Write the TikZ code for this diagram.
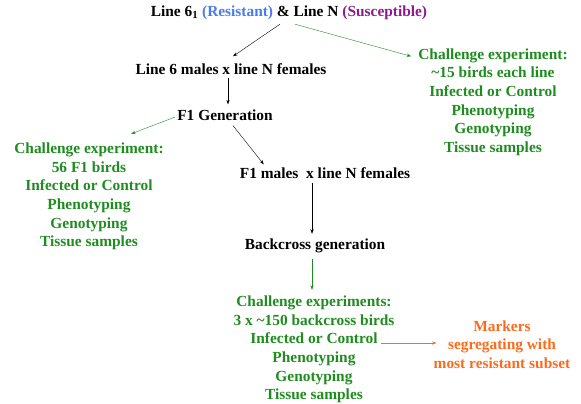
\documentclass[tikz,border=0pt]{standalone}
\usepackage{fontspec}
\setmainfont{Liberation Serif}
\usepackage{xcolor}
\usetikzlibrary{arrows.meta,calc}
\definecolor{resblue}{HTML}{4A7BEB}
\definecolor{suspurple}{HTML}{8C1A8C}
\definecolor{chalgreen}{HTML}{1F8C1F}
\definecolor{markorange}{HTML}{FF6A1A}
\tikzset{
	lbl/.style={font=\bfseries\fontsize{15.4}{18.6}\selectfont,align=center,inner sep=1pt},
	arr/.style={line width=0.4pt,-{Stealth[length=4.5pt,width=3.2pt]}}
}

\begin{document}
\begin{tikzpicture}[x=1pt,y=-1pt]
			\useasboundingbox (0,0) rectangle (581,404);
			\node[lbl] (title) at (289,13) {Line 6\textsubscript{1} {\color{resblue}(Resistant)} \& Line N {\color{suspurple}(Susceptible)}};
			\node[lbl] (cross1) at (231,69) {Line 6 males x line N females};
			\node[lbl] (f1) at (225,115) {F1 Generation};
			\node[lbl] (cross2) at (325,173) {F1 males\ \ x line N females};
			\node[lbl] (back) at (315,246) {Backcross generation};
			\node[lbl,chalgreen] (chalA) at (493,102) {Challenge experiment:\\ \textasciitilde15 birds each line\\ Infected or Control\\ Phenotyping\\ Genotyping\\ Tissue samples};
			\node[lbl,chalgreen] (chalB) at (89,196.5) {Challenge experiment:\\ 56 F1 birds\\ Infected or Control\\ Phenotyping\\ Genotyping\\ Tissue samples};
			\node[lbl,chalgreen] (chalC) at (314,349.5) {Challenge experiments:\\ 3 x \textasciitilde150 backcross birds\\ Infected or Control\\ Phenotyping\\ Genotyping\\ Tissue samples};
			\node[lbl,markorange] (markers) at (502,344.5) {Markers\\ segregating with\\ most resistant subset};
			\draw[arr] ($(title.south)+(-9,3)$) -- ($(cross1.north)+(2,-6)$);
			\draw[arr,chalgreen] ($(title.south)+(6,3)$) -- ($(chalA.north west)+(-6,9)$);
			\draw[arr] ($(cross1.south)+(-3,2)$) -- ($(f1.north)+(3,-4)$);
			\draw[arr,chalgreen] ($(f1.west)+(-1,2)$) -- ($(chalB.north west)+(118,-8)$);
			\draw[arr] ($(f1.south)+(8,4)$) -- ($(cross2.north west)+(25,-2)$);
			\draw[arr] ($(cross2.south)+(-13,3)$) -- ($(back.north)+(-3,-4)$);
			\draw[arr,chalgreen] ($(back.south)+(-3,5)$) -- ($(chalC.north)+(-2,-5)$);
			\draw[arr,markorange] ($(chalC.east)+(-15,-6.5)$) -- ($(markers.west)+(4,-1.5)$);
		\end{tikzpicture}
\end{document}
